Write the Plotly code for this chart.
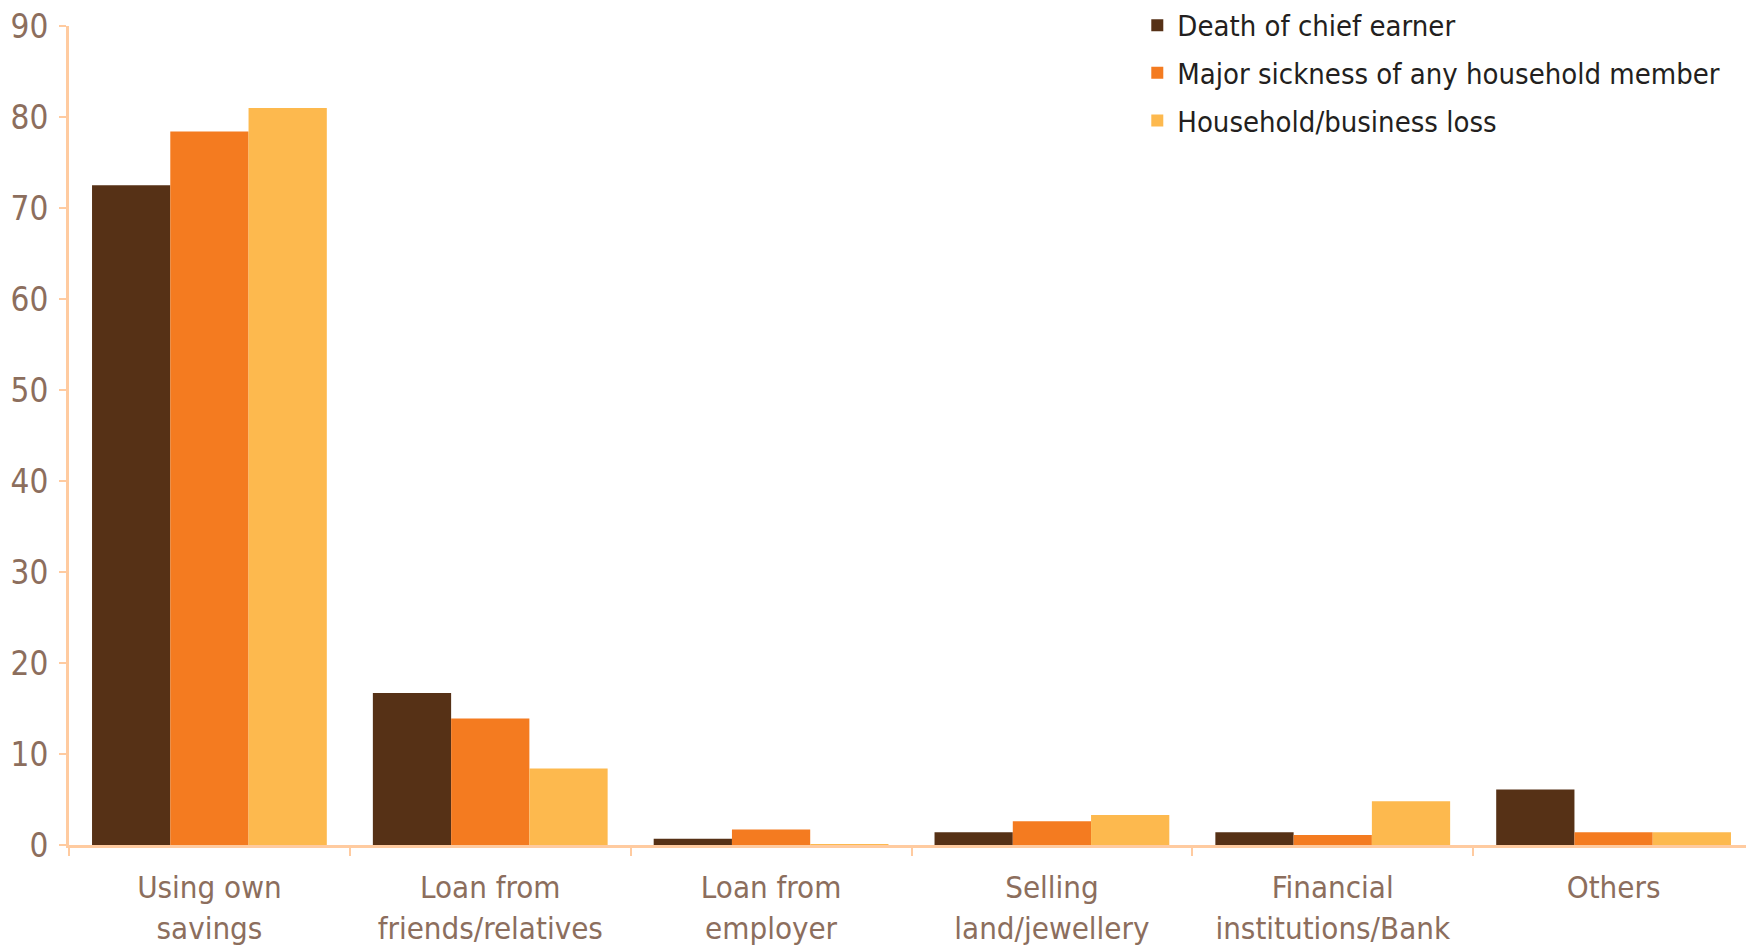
import plotly.graph_objects as go

categories = ["Using own<br>savings", "Loan from<br>friends/relatives", "Loan from<br>employer",
              "Selling<br>land/jewellery", "Financial<br>institutions/Bank", "Others"]
death_chief_earner = [72.5, 16.7, 0.7, 1.4, 1.4, 6.1]
major_sickness = [78.4, 13.9, 1.7, 2.6, 1.1, 1.4]
household_business_loss = [81.0, 8.4, 0.1, 3.3, 4.8, 1.4]
y_ticks = [0, 10, 20, 30, 40, 50, 60, 70, 80, 90]

font_family = "DejaVu Sans Condensed, sans-serif"
axis_color = "#FFCBA0"
label_color = "#8C6E5D"

fig = go.Figure()
fig.add_trace(go.Bar(x=categories, y=death_chief_earner, name="Death of chief earner",
                     marker_color="#563116", marker_line_width=0, legendgroup="a"))
fig.add_trace(go.Bar(x=categories, y=major_sickness, name="Major sickness of any household member",
                     marker_color="#F47B20", marker_line_width=0, legendgroup="b"))
fig.add_trace(go.Bar(x=categories, y=household_business_loss, name="Household/business loss",
                     marker_color="#FDB94E", marker_line_width=0, legendgroup="c"))

# page body adds an 8px offset, so margins are shifted to compensate
fig.update_layout(
    width=1754, height=952,
    margin=dict(l=61, r=8, t=18, b=115, autoexpand=False),
    paper_bgcolor="white", plot_bgcolor="white",
    barmode="group", bargap=0.164, bargroupgap=0,
    font=dict(family=font_family, size=31, color=label_color),
    legend=dict(x=0.634, xanchor="left", y=1.032, yanchor="top",
                font=dict(size=29, color="#231F20"),
                bgcolor="rgba(0,0,0,0)", tracegroupgap=7, itemwidth=30),
    showlegend=True,
)
fig.update_xaxes(
    automargin=False,
    showline=True, linecolor=axis_color, linewidth=3, tickangle=0,
    ticks="outside", tickson="boundaries", ticklen=8, tickwidth=2, tickcolor=axis_color,
    ticklabelstandoff=13, ticklabeloverflow="allow",
    tickfont=dict(size=31, color=label_color), showgrid=False,
)
fig.update_yaxes(
    automargin=False,
    range=[0, 90], tickvals=y_ticks, showline=True, linecolor=axis_color, linewidth=3,
    ticks="outside", ticklen=7, tickwidth=2, tickcolor=axis_color,
    ticklabelstandoff=4, ticklabeloverflow="allow",
    tickfont=dict(size=33, color=label_color), showgrid=False, zeroline=False,
)

fig.write_html("out.html")
